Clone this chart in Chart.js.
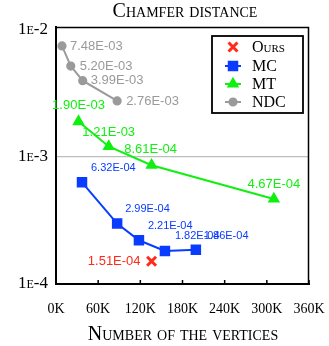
<!DOCTYPE html>
<html><head><meta charset="utf-8">
<script src="https://cdn.jsdelivr.net/npm/chart.js@4.4.0/dist/chart.umd.min.js"></script>
<style>html,body{margin:0;padding:0;background:#fff;}canvas{display:block;}</style>
</head><body>
<canvas id="c" width="329" height="346"></canvas>
<script>
// ---- data ----
const chartTitle = 'Chamfer distance';
const xAxisTitle = 'Number of the vertices';
const xTickValues = [0, 60000, 120000, 180000, 240000, 300000, 360000];
const yTickValues = [1e-4, 1e-3, 1e-2];
const yTickLabels = ['1e-4', '1e-3', '1e-2'];
const seriesNames = ['Ours', 'MC', 'MT', 'NDC'];

const oursX = [136000];
const oursY = [1.51e-4];
const mcX = [37000, 87000, 118000, 155000, 199000];
const mcY = [6.32e-4, 2.99e-4, 2.21e-4, 1.82e-4, 1.86e-4];
const mtX = [32000, 75000, 136000, 310000];
const mtY = [1.90e-3, 1.21e-3, 8.61e-4, 4.67e-4];
const ndcX = [8500, 21000, 38000, 87000];
const ndcY = [7.48e-3, 5.20e-3, 3.99e-3, 2.76e-3];

// ---- styles ----
const colors = {Ours: '#ff2a1a', MC: '#0a3cff', MT: '#10f010', NDC: '#9a9a9a'};
const labelFonts = {Ours: '13px "Liberation Sans"', MC: '11px "Liberation Sans"', MT: '13px "Liberation Sans"', NDC: '13px "Liberation Sans"'};
// [dx, dy, align] for each point label
const labelOffsets = {
  Ours: [[-11, 0, 'right']],
  MC: [[9, -14, 'left'], [8, -15, 'left'], [9, -14, 'left'], [10, -15, 'left'], [8, -14, 'left']],
  MT: [[0, -16, 'center'], [0, -14, 'center'], [-1, -16, 'center'], [0, -15, 'center']],
  NDC: [[8, 0, 'left'], [9, 0, 'left'], [8, 0, 'left'], [9, 0, 'left']]
};
const serif = '"Liberation Serif", "DejaVu Serif", serif';

function pts(xs, ys) { return xs.map((x, i) => ({x: x, y: ys[i]})); }
function fmt(v) {
  const e = Math.floor(Math.log10(v) + 1e-9);
  const m = v / Math.pow(10, e);
  const sign = e < 0 ? '-' : '+';
  const ea = Math.abs(e);
  return m.toFixed(2) + 'E' + sign + (ea < 10 ? '0' + ea : '' + ea);
}

const datasets = [
  {label: 'NDC', data: pts(ndcX, ndcY), borderColor: colors.NDC, backgroundColor: colors.NDC, borderWidth: 2,
   pointStyle: 'circle', pointRadius: 3.6, showLine: true},
  {label: 'MT', data: pts(mtX, mtY), borderColor: colors.MT, backgroundColor: colors.MT, borderWidth: 2,
   pointStyle: 'triangle', pointRadius: 5.2, showLine: true},
  {label: 'MC', data: pts(mcX, mcY), borderColor: colors.MC, backgroundColor: colors.MC, borderWidth: 2,
   pointStyle: 'rect', pointRadius: 6, showLine: true},
  {label: 'Ours', data: pts(oursX, oursY), borderColor: colors.Ours, backgroundColor: colors.Ours, borderWidth: 3,
   pointStyle: 'crossRot', pointRadius: 6.3, showLine: false}
];

const decorPlugin = {
  id: 'decor',
  afterDatasetsDraw(chart) {
    const ctx = chart.ctx, a = chart.chartArea;
    const xs = chart.scales.x;
    ctx.save();
    // frame top/right
    ctx.strokeStyle = '#000';
    ctx.lineWidth = 1.5;
    ctx.beginPath();
    ctx.moveTo(a.left, a.top + 0.5); ctx.lineTo(a.right, a.top + 0.5);
    ctx.moveTo(a.right - 0.5, a.top); ctx.lineTo(a.right - 0.5, a.bottom);
    ctx.stroke();
    // inner x ticks
    ctx.lineWidth = 1.5;
    ctx.beginPath();
    xTickValues.forEach(v => {
      const px = xs.getPixelForValue(v);
      ctx.moveTo(px, a.bottom); ctx.lineTo(px, a.bottom - 4);
    });
    ctx.stroke();
    // point labels
    ctx.textBaseline = 'middle';
    chart.data.datasets.forEach((ds, di) => {
      const meta = chart.getDatasetMeta(di);
      const offs = labelOffsets[ds.label];
      ctx.font = labelFonts[ds.label];
      ctx.fillStyle = colors[ds.label];
      meta.data.forEach((el, i) => {
        const o = offs[i];
        ctx.textAlign = o[2];
        ctx.fillText(fmt(ds.data[i].y), el.x + o[0], el.y + o[1]);
      });
    });
    // legend
    const lx = 212, ly = 36, lw = 91, lh = 77;
    ctx.fillStyle = '#fff';
    ctx.fillRect(lx, ly, lw, lh);
    ctx.strokeStyle = '#000';
    ctx.lineWidth = 1.8;
    ctx.strokeRect(lx, ly, lw, lh);
    const rows = [47, 66, 84, 102];
    seriesNames.forEach((name, i) => {
      const ds = chart.data.datasets.find(d => d.label === name);
      const y = rows[i], cx = 233;
      ctx.strokeStyle = colors[name];
      ctx.fillStyle = colors[name];
      if (ds.showLine) {
        ctx.lineWidth = 2;
        ctx.beginPath(); ctx.moveTo(cx - 8, y); ctx.lineTo(cx + 8, y); ctx.stroke();
      }
      ctx.lineWidth = ds.borderWidth;
      Chart.helpers.drawPoint(ctx, {pointStyle: ds.pointStyle, radius: ds.pointRadius, borderWidth: ds.borderWidth, rotation: 0}, cx, y);
      ctx.font = 'small-caps 16px ' + serif;
      ctx.fillStyle = '#000';
      ctx.textAlign = 'left';
      ctx.fillText(name, 252, y + 1);
    });
    // titles
    ctx.fillStyle = '#000';
    ctx.textAlign = 'center';
    ctx.font = 'small-caps 20px ' + serif;
    ctx.fillText(chartTitle, 185, 12);
    ctx.fillText(xAxisTitle, 183, 335);
    ctx.restore();
  }
};

new Chart(document.getElementById('c'), {
  type: 'scatter',
  data: {datasets: datasets},
  options: {
    responsive: false, animation: false, devicePixelRatio: 1,
    layout: {padding: {left: 0, right: 20, top: 27, bottom: 0}},
    plugins: {legend: {display: false}, title: {display: false}, tooltip: {enabled: false}},
    scales: {
      x: {
        type: 'linear', min: 0, max: 360000,
        afterBuildTicks: s => { s.ticks = xTickValues.map(v => ({value: v})); },
        ticks: {callback: v => (v / 1000) + 'K', font: {family: serif, size: 14}, color: '#000', padding: 17, maxRotation: 0, autoSkip: false},
        grid: {display: false, drawTicks: false},
        border: {display: true, color: '#000', width: 2},
        afterFit: s => { s.height = 62; s.paddingLeft = 0; s.paddingRight = 0; }
      },
      y: {
        type: 'logarithmic', min: 1e-4, max: 1.055e-2,
        afterBuildTicks: s => { s.ticks = yTickValues.map(v => ({value: v})); },
        ticks: {callback: v => yTickLabels[yTickValues.findIndex(t => Math.abs(t - v) / t < 1e-6)], font: {family: serif, size: 17, weight: 'small-caps'}, color: '#000', padding: 8},
        grid: {color: c => (c.tick && Math.abs(c.tick.value - 1e-3) < 1e-9) ? '#bdbdbd' : 'rgba(0,0,0,0)', drawTicks: false, lineWidth: 1.2},
        border: {display: true, color: '#000', width: 2},
        afterFit: s => { s.width = 56; s.paddingTop = 0; s.paddingBottom = 0; }
      }
    }
  },
  plugins: [decorPlugin]
});
</script>
</body></html>
